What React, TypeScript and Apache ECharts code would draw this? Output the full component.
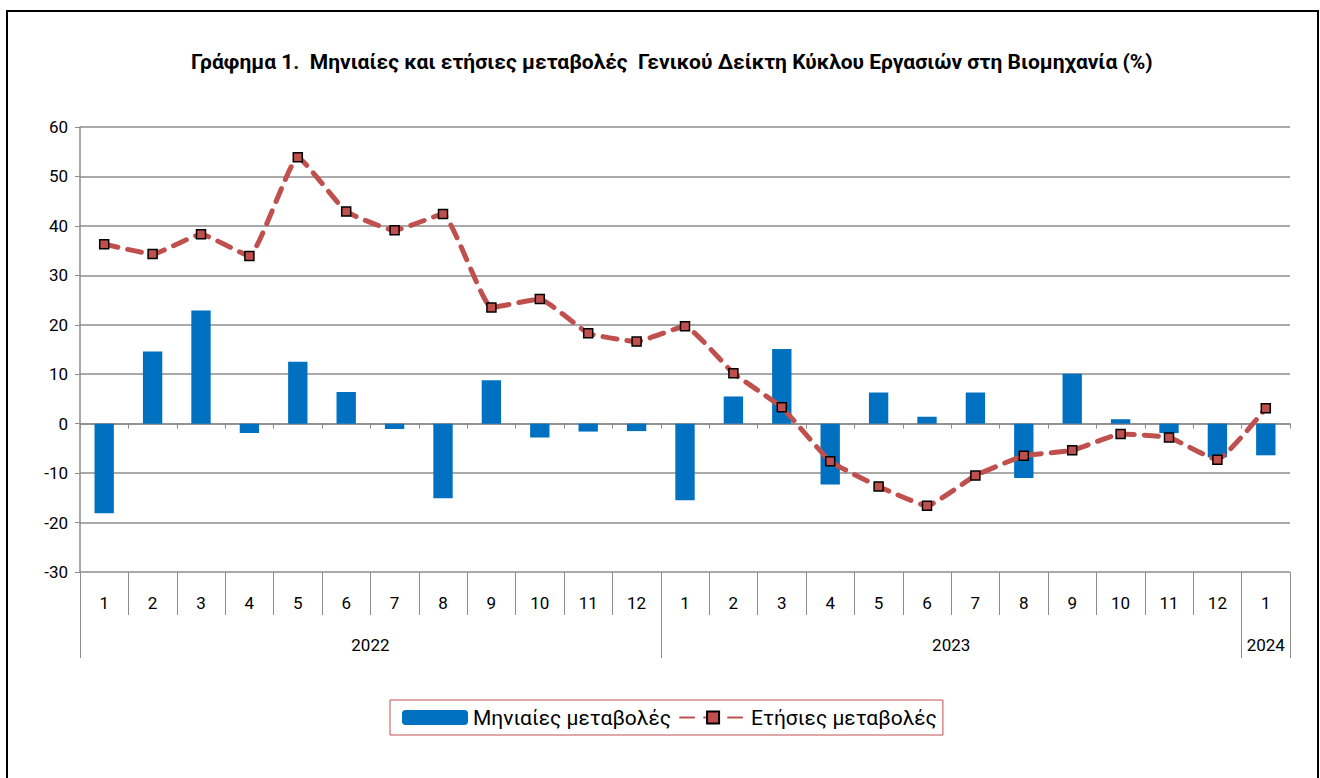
import React, { useEffect, useRef } from "react";
import * as echarts from "echarts";

const months = ["1","2","3","4","5","6","7","8","9","10","11","12","1","2","3","4","5","6","7","8","9","10","11","12","1"];
const years = ["2022", "2023", "2024"];
const monthsPerYear = [12, 12, 1];
const monthly = [-18.1, 14.6, 22.9, -1.9, 12.5, 6.4, -1.1, -15.1, 8.8, -2.8, -1.6, -1.5,
  -15.5, 5.5, 15.1, -12.3, 6.3, 1.4, 6.3, -11.0, 10.1, 0.9, -1.9, -6.8, -6.4];
const annual = [36.3, 34.3, 38.3, 33.9, 53.9, 42.9, 39.1, 42.4, 23.5, 25.2, 18.3, 16.6,
  19.7, 10.2, 3.3, -7.6, -12.7, -16.6, -10.5, -6.5, -5.4, -2.1, -2.8, -7.3, 3.1];
const yTicks = { min: -30, max: 60, interval: 10 };
const titleText = "Γράφημα 1.  Μηνιαίες και ετήσιες μεταβολές  Γενικού Δείκτη Κύκλου Εργασιών στη Βιομηχανία (%)";
const seriesNames = ["Μηνιαίες μεταβολές", "Ετήσιες μεταβολές"];

const FONT = "Roboto";

export default function App() {
  const ref = useRef<HTMLDivElement>(null);
  useEffect(() => {
    document.body.style.margin = "0";
    const chart = echarts.init(ref.current!, null, { renderer: "svg" });
    const bounds: number[] = [0];
    monthsPerYear.forEach((n) => bounds.push(bounds[bounds.length - 1] + n));
    const centers = monthsPerYear.map((n, i) => bounds[i] + n / 2);
    const total = bounds[bounds.length - 1];
    const grey = "#8c8c8c";
    chart.setOption({
      animation: false,
      textStyle: { fontFamily: FONT },
      title: {
        text: titleText,
        left: 186,
        top: 46,
        textStyle: { fontFamily: FONT, fontWeight: "bold", fontSize: 21, color: "#000" },
      },
      graphic: [
        {
          type: "rect",
          shape: { x: 7, y: 11, width: 1311, height: 790 },
          style: { fill: "none", stroke: "#000", lineWidth: 2 },
          silent: true,
        },
      ],
      legend: {
        left: 390,
        top: 700,
        padding: [7, 6, 7, 12],
        itemGap: 8,
        itemWidth: 66,
        itemHeight: 15,
        borderColor: "#C0504D",
        borderWidth: 1,
        textStyle: { fontFamily: FONT, fontSize: 21, color: "#000" },
        data: seriesNames,
      },
      grid: { left: 80, right: 30, top: 127, bottom: 206 },
      xAxis: [
        {
          type: "category",
          data: months,
          position: "bottom",
          axisLine: { onZero: true, lineStyle: { color: grey, width: 1.5 } },
          axisTick: { show: true, interval: 0, length: 5, lineStyle: { color: grey } },
          axisLabel: { show: false },
          splitLine: { show: false },
        },
        {
          type: "category",
          data: months,
          position: "bottom",
          axisLine: { onZero: false, show: false },
          axisTick: { show: true, interval: 0, length: 43, lineStyle: { color: grey } },
          axisLabel: { interval: 0, margin: 22, fontSize: 17, color: "#000", fontFamily: FONT },
          splitLine: { show: false },
        },
        {
          type: "value",
          min: 0,
          max: total,
          position: "bottom",
          axisLine: { onZero: false, show: false },
          axisTick: { show: true, length: 86, lineStyle: { color: grey }, customValues: bounds },
          axisLabel: {
            margin: 64,
            fontSize: 17,
            color: "#000",
            fontFamily: FONT,
            customValues: centers,
            formatter: (v: number) => {
              const i = centers.findIndex((c) => Math.abs(c - v) < 1e-6);
              return i >= 0 ? years[i] : "";
            },
          },
          splitLine: { show: false },
        },
      ],
      yAxis: {
        type: "value",
        min: yTicks.min,
        max: yTicks.max,
        interval: yTicks.interval,
        axisLine: { show: true, onZero: false, lineStyle: { color: grey, width: 1.5 } },
        axisTick: { show: true, length: 5, lineStyle: { color: grey } },
        axisLabel: { fontSize: 17, color: "#000", margin: 12, fontFamily: FONT },
        splitLine: { lineStyle: { color: grey, width: 1.5 } },
      },
      series: [
        {
          name: seriesNames[0],
          type: "bar",
          xAxisIndex: 0,
          data: monthly,
          barWidth: "40%",
          itemStyle: { color: "#0070C0" },
        },
        {
          name: seriesNames[1],
          type: "line",
          xAxisIndex: 0,
          data: annual,
          smooth: 0.12,
          symbol: "rect",
          symbolSize: 9,
          lineStyle: { color: "#C0504D", width: 5, type: [14, 10], cap: "round" },
          itemStyle: { color: "#C0504D", borderColor: "#000", borderWidth: 1.5 },
          z: 5,
        },
      ],
    });
    return () => chart.dispose();
  }, []);
  return <div ref={ref} style={{ width: 1320, height: 778 }} />;
}
